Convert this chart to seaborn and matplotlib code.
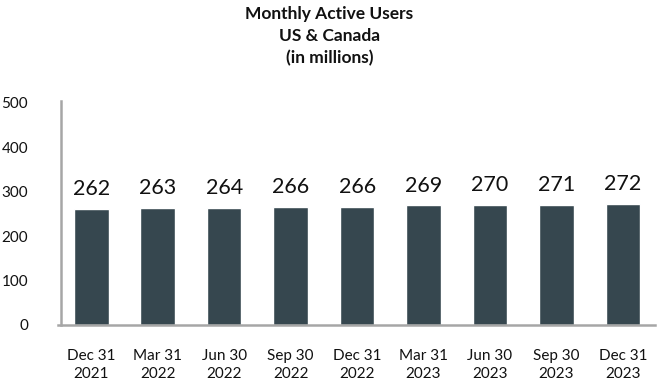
import seaborn as sns
import matplotlib.pyplot as plt
import pandas as pd

# data
quarters = ['Dec 31\n2021', 'Mar 31\n2022', 'Jun 30\n2022', 'Sep 30\n2022', 'Dec 31\n2022',
            'Mar 31\n2023', 'Jun 30\n2023', 'Sep 30\n2023', 'Dec 31\n2023']
users = [262, 263, 264, 266, 266, 269, 270, 271, 272]
y_ticks = [0, 100, 200, 300, 400, 500]

df = pd.DataFrame({'Quarter': quarters, 'Users': users})

sns.set_theme(style='white')
plt.rcParams['font.family'] = ['Lato', 'DejaVu Sans']

fig = plt.figure(figsize=(6.6, 3.8), dpi=100)
ax = fig.add_axes([0.088, 0.145, 0.904, 0.59])

sns.barplot(x='Quarter', y='Users', data=df, color='#36474f', saturation=1, width=0.52, ax=ax)

# value labels above bars
for i, v in enumerate(users):
    ax.annotate(str(v), (i, v), xytext=(0, 7), textcoords='offset points',
                ha='center', va='bottom', fontsize=15.5, color='#111111')

ax.set_xlim(-0.5, 8.48)
ax.set_ylim(0, 505)
ax.set_yticks(y_ticks)
ax.set_xlabel('')
ax.set_ylabel('')
ax.tick_params(axis='y', length=0, pad=24, labelsize=11, labelcolor='#111111')
ax.tick_params(axis='x', length=0, pad=17, labelsize=11, labelcolor='#111111')
for lab in ax.get_xticklabels():
    lab.set_linespacing(1.45)

sns.despine(ax=ax, top=True, right=True)
ax.spines['left'].set_position(('data', -0.45))
for side in ['left', 'bottom']:
    ax.spines[side].set_color('#a6a6a6')
    ax.spines[side].set_linewidth(1.8)

fig.text(0.499, 0.985, 'Monthly Active Users\nUS & Canada\n(in millions)', ha='center', va='top',
         fontsize=12.5, fontweight='bold', linespacing=1.45, color='#111111')

fig.savefig('out.png', dpi=100)
